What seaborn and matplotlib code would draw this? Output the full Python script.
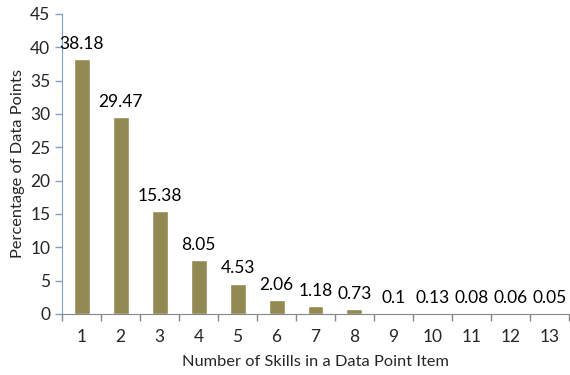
import matplotlib
matplotlib.use('Agg')
import matplotlib.pyplot as plt
import numpy as np
import pandas as pd
import seaborn as sns

skills = ['1', '2', '3', '4', '5', '6', '7', '8', '9', '10', '11', '12', '13']
percent = [38.18, 29.47, 15.38, 8.05, 4.53, 2.06, 1.18, 0.73, 0.1, 0.13, 0.08, 0.06, 0.05]
labels = ['38.18', '29.47', '15.38', '8.05', '4.53', '2.06', '1.18', '0.73', '0.1', '0.13', '0.08', '0.06', '0.05']

df = pd.DataFrame({'Skills': skills, 'Percent': percent})

sns.set_style('white')
plt.rcParams['font.family'] = ['Lato', 'DejaVu Sans']
fs = 12.5

fig = plt.figure(figsize=(5.7, 3.75), dpi=100)
ax = fig.add_axes([0.109, 0.163, 0.889, 0.8])

sns.barplot(data=df, x='Skills', y='Percent', color='#938953', width=0.41,
            saturation=1, ax=ax)

for i, (v, t) in enumerate(zip(percent, labels)):
    ax.text(i, v + 1.1, t, ha='center', va='bottom', fontsize=fs, color='#000000')

ax.set_ylim(0, 45)
ax.set_xlim(-0.5, 12.5)
ax.set_yticks(range(0, 46, 5))
ax.set_xticks(np.arange(-0.5, 12.6, 1), minor=True)
ax.tick_params(axis='x', which='major', length=0, pad=11, labelsize=fs)
ax.tick_params(axis='x', which='minor', length=5, width=1, color='#868686', direction='out', bottom=True)
ax.tick_params(axis='y', length=5, width=1, color='#7f9fc8', direction='out', left=True, labelsize=fs)

for s in ['top', 'right']:
    ax.spines[s].set_visible(False)
ax.spines['left'].set_color('#7f9fc8')
ax.spines['bottom'].set_color('#868686')

ax.set_xlabel('Number of Skills in a Data Point Item', fontsize=11.8, labelpad=7)
ax.set_ylabel('Percentage of Data Points', fontsize=11.8, labelpad=4)

fig.savefig('out.png', dpi=100)
